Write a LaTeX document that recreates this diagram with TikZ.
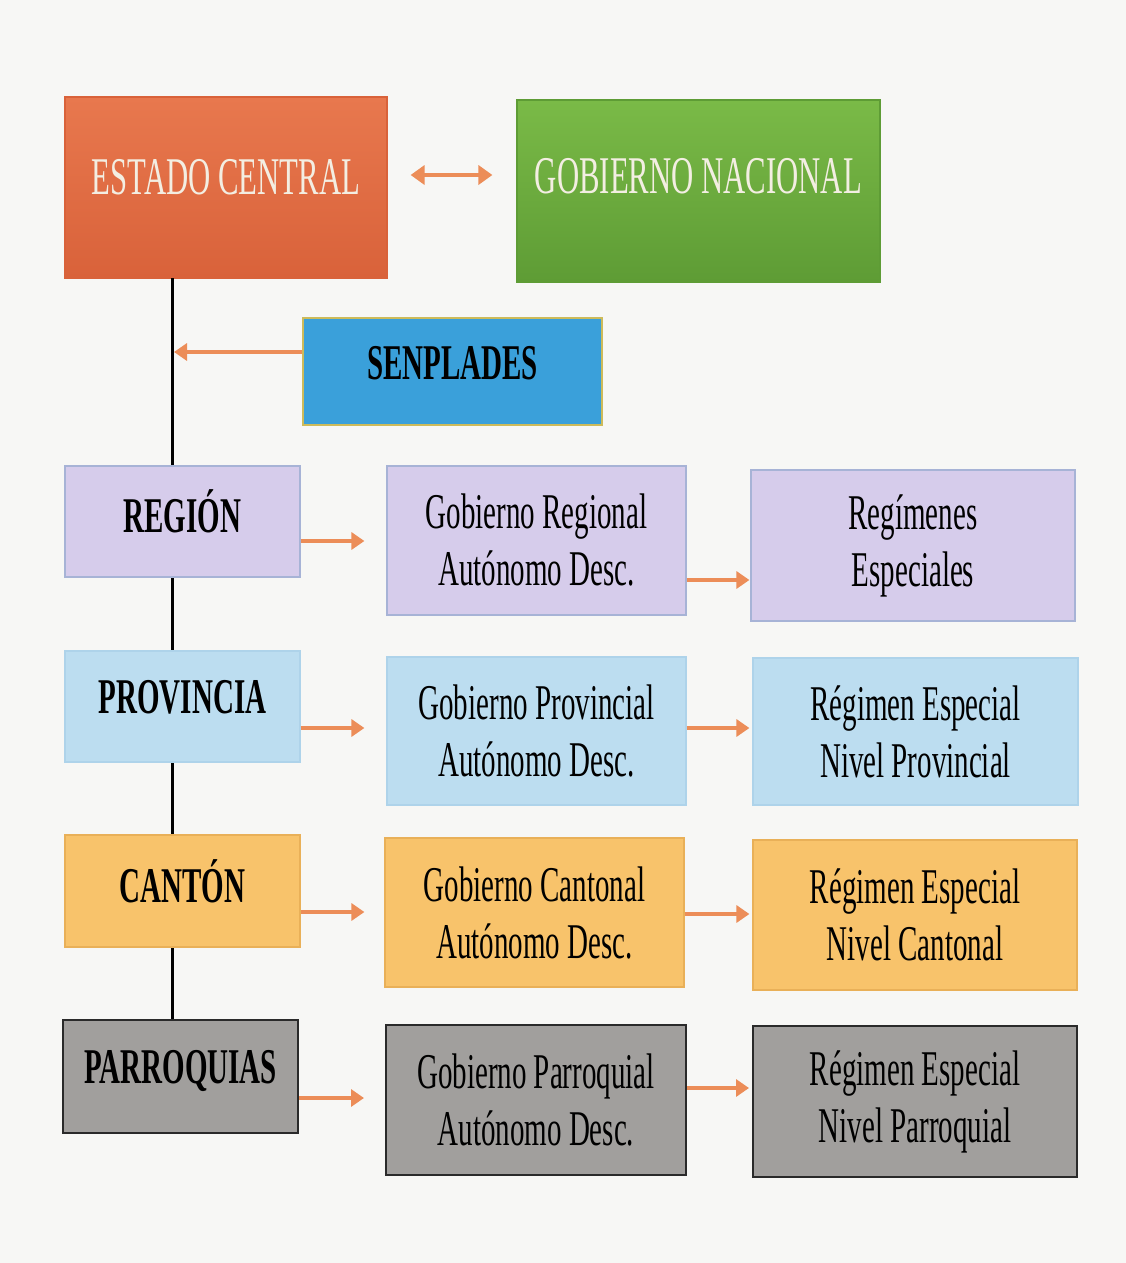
\documentclass[tikz,border=0pt]{standalone}
\usepackage{fontspec}
\newfontfamily\cond[FakeStretch=0.58]{Liberation Serif}
\usetikzlibrary{arrows.meta}
\definecolor{bgc}{HTML}{F7F7F5}
\definecolor{estTop}{HTML}{E8784E}
\definecolor{estBot}{HTML}{D9623A}
\definecolor{nacTop}{HTML}{7ABA47}
\definecolor{nacBot}{HTML}{5E9C35}
\definecolor{lighttxt}{HTML}{F3EEE2}
\definecolor{senfill}{HTML}{3AA0DA}
\definecolor{senborder}{HTML}{CDBB5A}
\definecolor{lavfill}{HTML}{D6CCEB}
\definecolor{lavborder}{HTML}{A7B3D6}
\definecolor{lbfill}{HTML}{BCDDF0}
\definecolor{lbborder}{HTML}{AED3EA}
\definecolor{orfill}{HTML}{F8C36B}
\definecolor{orborder}{HTML}{E9B058}
\definecolor{grfill}{HTML}{A19F9D}
\definecolor{grborder}{HTML}{2A2A2A}
\definecolor{arrc}{HTML}{EC8D58}
\tikzset{
  box/.style={draw, line width=1.2pt, inner sep=0pt, align=center,
    font=\cond\fontsize{50}{57}\selectfont},
  lbl/.style={box, font=\cond\bfseries\fontsize{50}{57}\selectfont},
  lav/.style={fill=lavfill, draw=lavborder},
  lb/.style={fill=lbfill, draw=lbborder},
  ora/.style={fill=orfill, draw=orborder},
  gry/.style={fill=grfill, draw=grborder, line width=2pt},
  arr/.style={draw=arrc, line width=3.5pt, -{Triangle[width=17pt,length=13pt]}},
}
\begin{document}
\begin{tikzpicture}[x=1pt,y=-1pt]
\fill[bgc] (0,0) rectangle (1126,1263);
\useasboundingbox (0,0) rectangle (1126,1263);

% top row
\node[box, draw=estBot, top color=estTop, bottom color=estBot, text=lighttxt,
  minimum width=322pt, minimum height=181pt, font=\cond\fontsize{53}{60}\selectfont] (estado) at (226,187.5)
  {\raisebox{22pt}{ESTADO CENTRAL}};
\node[box, draw=nacBot, top color=nacTop, bottom color=nacBot, text=lighttxt,
  minimum width=363pt, minimum height=182pt, font=\cond\fontsize{53}{60}\selectfont] (nacional) at (698.5,191)
  {\raisebox{30pt}{GOBIERNO NACIONAL}};

% spine
\coordinate (spinetop) at (172,278);
\coordinate (spinebot) at (172,1020);
\coordinate (spinesen) at (174,352);
\draw[black, line width=3pt] (spinetop) -- (spinebot);

\node[lbl, fill=senfill, draw=senborder, line width=1.5pt,
  minimum width=299pt, minimum height=107pt] (senplades) at (452.5,371.5)
  {\raisebox{18pt}{SENPLADES}};

% level boxes
\node[lbl, lav, minimum width=235pt, minimum height=111pt] (region) at (182.5,521.5) {\raisebox{20pt}{REGIÓN}};
\node[box, lav, minimum width=299pt, minimum height=149pt] (gobreg) at (536.5,540.5) {Gobierno Regional\\Autónomo Desc.};
\node[box, lav, minimum width=324pt, minimum height=151pt] (regesp) at (913,545.5) {Regímenes\\Especiales};

\node[lbl, lb, minimum width=235pt, minimum height=111pt] (provincia) at (182.5,706.5) {\raisebox{20pt}{PROVINCIA}};
\node[box, lb, minimum width=299pt, minimum height=148pt] (gobprov) at (536.5,731) {Gobierno Provincial\\Autónomo Desc.};
\node[box, lb, minimum width=325pt, minimum height=147pt] (regprov) at (915.5,731.5) {Régimen Especial\\Nivel Provincial};

\node[lbl, ora, minimum width=235pt, minimum height=112pt] (canton) at (182.5,891) {\raisebox{20pt}{CANTÓN}};
\node[box, ora, minimum width=299pt, minimum height=149pt] (gobcant) at (534.5,912.5) {Gobierno Cantonal\\Autónomo Desc.};
\node[box, ora, minimum width=324pt, minimum height=150pt] (regcant) at (915,915) {Régimen Especial\\Nivel Cantonal};

\node[lbl, gry, minimum width=235pt, minimum height=113pt] (parroq) at (180.5,1076.5) {\raisebox{20pt}{PARROQUIAS}};
\node[box, gry, minimum width=300pt, minimum height=150pt] (gobparr) at (536,1100) {Gobierno Parroquial\\Autónomo Desc.};
\node[box, gry, minimum width=324pt, minimum height=151pt] (regparr) at (915,1101.5) {Régimen Especial\\Nivel Parroquial};

% arrows
\draw[arr, line width=4pt, {Triangle[width=19pt,length=14pt]}-{Triangle[width=19pt,length=14pt]},
  shorten <=23pt, shorten >=24pt] (estado.east |- 0,175) -- (nacional.west |- 0,175);
\draw[arr] (senplades.west |- spinesen) -- (spinesen);

\draw[arr, shorten >=22pt] (region.east |- 0,541) -- (gobreg.west |- 0,541);
\draw[arr, shorten >=1pt] (gobreg.east |- 0,580) -- (regesp.west |- 0,580);
\draw[arr, shorten >=22pt] (provincia.east |- 0,728) -- (gobprov.west |- 0,728);
\draw[arr, shorten >=3pt] (gobprov.east |- 0,728) -- (regprov.west |- 0,728);
\draw[arr, shorten >=20pt] (canton.east |- 0,912) -- (gobcant.west |- 0,912);
\draw[arr, shorten >=3pt] (gobcant.east |- 0,914) -- (regcant.west |- 0,914);
\draw[arr, shorten >=21pt] (parroq.east |- 0,1098) -- (gobparr.west |- 0,1098);
\draw[arr, shorten >=3pt] (gobparr.east |- 0,1088) -- (regparr.west |- 0,1088);
\end{tikzpicture}
\end{document}
